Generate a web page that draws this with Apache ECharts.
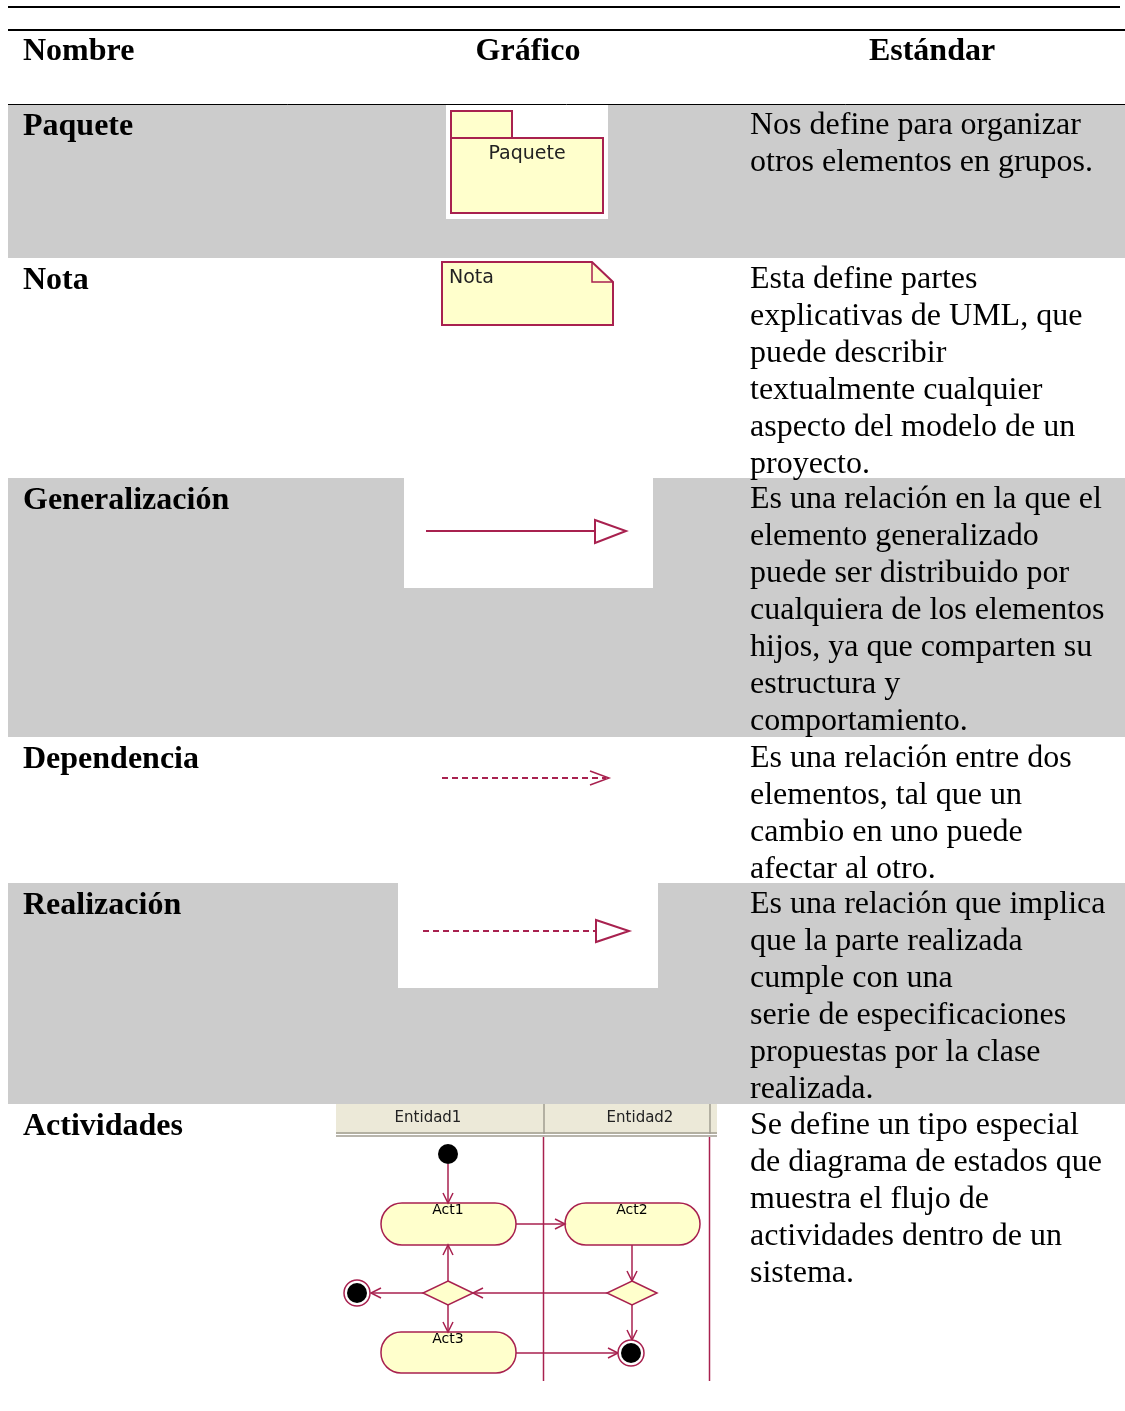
<!DOCTYPE html>
<html>
<head>
<meta charset="utf-8">
<script src="https://cdn.jsdelivr.net/npm/echarts@6/dist/echarts.min.js"></script>
<style>
html,body{margin:0;padding:0;background:#fff;}
#main{width:1125px;height:1411px;}
</style>
</head>
<body>
<div id="main"></div>
<script>
// ---------- DATA ----------
const headers = ['Nombre', 'Gráfico', 'Estándar'];
const names = ['Paquete', 'Nota', 'Generalización', 'Dependencia', 'Realización', 'Actividades'];
const descriptions = [
  ['Nos define para organizar', 'otros elementos en grupos.'],
  ['Esta define partes', 'explicativas de UML, que', 'puede describir', 'textualmente cualquier', 'aspecto del modelo de un', 'proyecto.'],
  ['Es una relación en la que el', 'elemento generalizado', 'puede ser distribuido por', 'cualquiera de los elementos', 'hijos, ya que comparten su', 'estructura y', 'comportamiento.'],
  ['Es una relación entre dos', 'elementos, tal que un', 'cambio en uno puede', 'afectar al otro.'],
  ['Es una relación que implica', 'que la parte realizada', 'cumple con una', 'serie de especificaciones', 'propuestas por la clase', 'realizada.'],
  ['Se define un tipo especial', 'de diagrama de estados que', 'muestra el flujo de', 'actividades dentro de un', 'sistema.']
];
const rowShaded = [true, false, true, false, true, false];
const packageLabel = 'Paquete';
const noteLabel = 'Nota';
const laneLabels = ['Entidad1', 'Entidad2'];
const activityLabels = ['Act1', 'Act2', 'Act3'];

// ---------- LAYOUT / STYLE ----------
const rowTops = [104, 258, 478, 737, 883, 1104, 1411];
const GRAY = '#cccccc';
const UML = '#a8214f';
const FILL = '#ffffcc';
const SERIF = '"Liberation Serif","Times New Roman",serif';
const SANS = '"DejaVu Sans",Tahoma,sans-serif';
const LH = 37;

const g = [];
function txt(x, y, s, font, align, fill) {
  g.push({type: 'text', x: x, y: y, z: 10, style: {text: s, font: font, fill: fill || '#000', textAlign: align || 'left', textVerticalAlign: 'middle'}});
}
function rect(x, y, w, h, fill, stroke, lw, r) {
  g.push({type: 'rect', shape: {x: x, y: y, width: w, height: h, r: r || 0}, z: 2, style: {fill: fill, stroke: stroke || null, lineWidth: lw || 0}});
}
function line(x1, y1, x2, y2, stroke, lw, dash) {
  g.push({type: 'line', z: 5, shape: {x1: x1, y1: y1, x2: x2, y2: y2}, style: {stroke: stroke, lineWidth: lw || 1, lineDash: dash || null}});
}
function poly(points, fill, stroke, lw, closed) {
  g.push({type: closed ? 'polygon' : 'polyline', z: 6, shape: {points: points}, style: {fill: closed ? fill : null, stroke: stroke, lineWidth: lw || 1.5}});
}
function circle(cx, cy, r, fill, stroke, lw) {
  g.push({type: 'circle', z: 6, shape: {cx: cx, cy: cy, r: r}, style: {fill: fill, stroke: stroke || null, lineWidth: lw || 0}});
}
// open arrowhead pointing to (x,y) in direction dir
function head(x, y, dir) {
  const L = 10, W = 5;
  let pts;
  if (dir === 'down') pts = [[x - W, y - L], [x, y], [x + W, y - L]];
  else if (dir === 'up') pts = [[x - W, y + L], [x, y], [x + W, y + L]];
  else if (dir === 'right') pts = [[x - L, y - W], [x, y], [x - L, y + W]];
  else pts = [[x + L, y - W], [x, y], [x + L, y + W]];
  poly(pts, null, UML, 1.5, false);
}

// ---------- TABLE ----------
for (let i = 0; i < names.length; i++) {
  if (rowShaded[i]) rect(8, rowTops[i], 1117, rowTops[i + 1] - rowTops[i], GRAY);
  txt(23, rowTops[i] + 23, names[i], 'bold 32px ' + SERIF);
  descriptions[i].forEach(function (s, k) {
    txt(750, rowTops[i] + 22 + k * LH, s, '32px ' + SERIF);
  });
}
// header
line(8, 7, 1120, 7, '#000', 2);
line(8, 30, 1125, 30, '#000', 2);
line(8, 104.5, 1125, 104.5, '#000', 1);
txt(23, 52, headers[0], 'bold 32px ' + SERIF);
txt(528, 52, headers[1], 'bold 32px ' + SERIF, 'center');
txt(932, 52, headers[2], 'bold 32px ' + SERIF, 'center');

// ---------- GRAPHICS ----------
// Paquete
rect(446, 104, 162, 115, '#fff');
rect(451, 111, 61, 27, FILL, UML, 2);
rect(451, 138, 152, 75, FILL, UML, 2);
txt(527, 154, packageLabel, '19px ' + SANS, 'center', '#222');
// Nota
rect(437, 258, 180, 72, '#fff');
poly([[442, 262], [592, 262], [613, 282], [613, 325], [442, 325]], FILL, UML, 2, true);
poly([[592, 262], [592, 282], [613, 282]], null, UML, 1.5, false);
txt(449, 278, noteLabel, '19px ' + SANS, 'left', '#222');
// Generalización
rect(404, 478, 249, 110, '#fff');
line(426, 531, 595, 531, UML, 2);
poly([[595, 520], [626, 531], [595, 543]], '#fff', UML, 2, true);
// Dependencia
rect(422, 737, 206, 146, '#fff');
line(442, 778, 606, 778, UML, 2, [6, 4]);
poly([[590, 771], [609, 778], [590, 785]], null, UML, 1.5, false);
// Realización
rect(398, 883, 260, 105, '#fff');
line(423, 931, 596, 931, UML, 2, [6, 4]);
poly([[596, 920], [629, 931], [596, 942]], '#fff', UML, 2, true);

// Actividades
rect(336, 1104, 381, 30, '#ece9d8');
line(336, 1133, 717, 1133, '#a09d90', 1.5);
line(336, 1136, 717, 1136, '#a09d90', 1.5);
line(544, 1104, 544, 1134, '#a09d90', 1.5);
line(710, 1104, 710, 1134, '#a09d90', 1.5);
txt(428, 1118, laneLabels[0], '15px ' + SANS, 'center', '#222');
txt(640, 1118, laneLabels[1], '15px ' + SANS, 'center', '#222');
line(543.5, 1137, 543.5, 1381, UML, 1.5);
line(709.5, 1137, 709.5, 1381, UML, 1.5);
// start
circle(448, 1154, 10, '#000');
line(448, 1164, 448, 1203, UML, 1.5);
head(448, 1203, 'down');
// activities
rect(381, 1203, 135, 42, FILL, UML, 1.5, 21);
rect(565, 1203, 135, 42, FILL, UML, 1.5, 21);
rect(381, 1332, 135, 41, FILL, UML, 1.5, 20);
txt(448, 1210, activityLabels[0], '14px ' + SANS, 'center', '#000');
txt(632, 1210, activityLabels[1], '14px ' + SANS, 'center', '#000');
txt(448, 1339, activityLabels[2], '14px ' + SANS, 'center', '#000');
// Act1 -> Act2
line(516, 1224, 565, 1224, UML, 1.5);
head(565, 1224, 'right');
// Act2 -> diamond2
line(632, 1245, 632, 1281, UML, 1.5);
head(632, 1281, 'down');
// diamonds
poly([[448, 1281], [473, 1293], [448, 1305], [423, 1293]], FILL, UML, 1.5, true);
poly([[632, 1281], [657, 1293], [632, 1305], [607, 1293]], FILL, UML, 1.5, true);
// diamond2 -> diamond1
line(607, 1293, 473, 1293, UML, 1.5);
head(473, 1293, 'left');
// diamond1 -> Act1
line(448, 1281, 448, 1245, UML, 1.5);
head(448, 1245, 'up');
// diamond1 -> end1
line(423, 1293, 371, 1293, UML, 1.5);
head(371, 1293, 'left');
circle(357, 1293, 13, '#fff', UML, 1.5);
circle(357, 1293, 10, '#000');
// diamond1 -> Act3
line(448, 1305, 448, 1332, UML, 1.5);
head(448, 1332, 'down');
// diamond2 -> end2
line(632, 1305, 632, 1340, UML, 1.5);
head(632, 1340, 'down');
// Act3 -> end2
line(516, 1353, 618, 1353, UML, 1.5);
head(618, 1353, 'right');
circle(631, 1353, 13, '#fff', UML, 1.5);
circle(631, 1353, 10, '#000');

const chart = echarts.init(document.getElementById('main'), null, {renderer: 'canvas'});
chart.setOption({backgroundColor: '#fff', animation: false, graphic: {elements: g}});
</script>
</body>
</html>
